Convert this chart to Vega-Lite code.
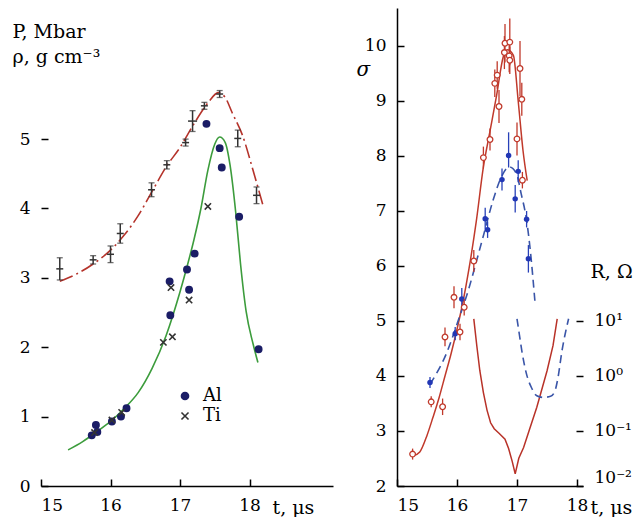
{
  "$schema": "https://vega.github.io/schema/vega-lite/v6.json",
  "padding": {"left": 12, "top": 8, "right": 0, "bottom": 0},
  "background": "white",
  "config": {
    "font": "DejaVu Serif",
    "view": {"stroke": null},
    "axis": {
      "grid": false, "domainColor": "#000", "tickColor": "#000", "labelColor": "#000", "titleColor": "#000",
      "labelFontSize": 17, "titleFontSize": 19, "titleFontWeight": "normal",
      "labelFont": "DejaVu Serif", "titleFont": "DejaVu Serif",
      "tickSize": -7, "domainWidth": 1.5, "tickWidth": 1.5, "labelPadding": 18, "format": "d"
    },
    "legend": {"labelFont": "DejaVu Serif", "labelFontSize": 18, "labelColor": "#000"},
    "text": {"font": "DejaVu Serif"},
    "concat": {"spacing": 23}
  },
  "hconcat": [
    {
      "width": 292,
      "height": 478,
      "layer": [
        {
          "data": {"values": [
            {"t": 15.27, "v": 2.95}, {"t": 15.5, "v": 3.05}, {"t": 15.75, "v": 3.2}, {"t": 16.0, "v": 3.4},
            {"t": 16.2, "v": 3.62}, {"t": 16.4, "v": 3.9}, {"t": 16.6, "v": 4.25}, {"t": 16.8, "v": 4.6},
            {"t": 17.0, "v": 4.88}, {"t": 17.2, "v": 5.22}, {"t": 17.4, "v": 5.52}, {"t": 17.55, "v": 5.67},
            {"t": 17.65, "v": 5.6}, {"t": 17.75, "v": 5.38}, {"t": 17.9, "v": 5.05}, {"t": 18.05, "v": 4.55},
            {"t": 18.2, "v": 4.02}
          ]},
          "mark": {"type": "line", "color": "#b5332b", "strokeWidth": 1.6, "strokeDash": [14, 4, 2, 4], "interpolate": "monotone"},
          "encoding": {
            "x": {"field": "t", "type": "quantitative", "scale": {"domain": [15, 19.2], "nice": false, "zero": false},
                  "axis": {"values": [15, 16, 17, 18], "title": "t, μs", "titleAlign": "left", "titleBaseline": "alphabetic", "titleX": 231, "titleY": 27}},
            "y": {"field": "v", "type": "quantitative", "scale": {"domain": [0, 6.89], "nice": false, "zero": false},
                  "axis": {"values": [0, 1, 2, 3, 4, 5], "domain": false, "title": ["P, Mbar", "ρ, g cm⁻³"], "titleAngle": 0, "titleAlign": "left", "titleBaseline": "alphabetic", "titleX": -29, "titleY": 29, "titleLineHeight": 25}}
          }
        },
        {
          "mark": {"type": "rule", "color": "#000", "strokeWidth": 1.5},
          "encoding": {"x": {"datum": 15}, "y": {"datum": 0}, "y2": {"datum": 6}}
        },
        {
          "data": {"values": [
            {"t": 15.39, "v": 0.52}, {"t": 15.6, "v": 0.64}, {"t": 15.8, "v": 0.78}, {"t": 16.0, "v": 0.93},
            {"t": 16.2, "v": 1.12}, {"t": 16.4, "v": 1.35}, {"t": 16.6, "v": 1.7}, {"t": 16.8, "v": 2.17},
            {"t": 17.0, "v": 2.8}, {"t": 17.1, "v": 3.16}, {"t": 17.2, "v": 3.55}, {"t": 17.3, "v": 4.0},
            {"t": 17.4, "v": 4.55}, {"t": 17.5, "v": 4.93}, {"t": 17.57, "v": 5.03}, {"t": 17.65, "v": 4.95},
            {"t": 17.72, "v": 4.62}, {"t": 17.8, "v": 3.95}, {"t": 17.87, "v": 3.2}, {"t": 17.95, "v": 2.52},
            {"t": 18.05, "v": 2.05}, {"t": 18.12, "v": 1.78}
          ]},
          "mark": {"type": "line", "color": "#3c9c3c", "strokeWidth": 1.6, "interpolate": "monotone"},
          "encoding": {"x": {"field": "t", "type": "quantitative"}, "y": {"field": "v", "type": "quantitative"}}
        },
        {
          "data": {"values": [
            {"t": 15.27, "v": 3.13, "lo": 2.97, "hi": 3.29, "tlo": 15.22, "thi": 15.32},
            {"t": 15.75, "v": 3.26, "lo": 3.2, "hi": 3.32, "tlo": 15.7, "thi": 15.8},
            {"t": 16.0, "v": 3.34, "lo": 3.22, "hi": 3.46, "tlo": 15.95, "thi": 16.05},
            {"t": 16.14, "v": 3.64, "lo": 3.5, "hi": 3.78, "tlo": 16.09, "thi": 16.19},
            {"t": 16.59, "v": 4.27, "lo": 4.17, "hi": 4.37, "tlo": 16.54, "thi": 16.64},
            {"t": 16.81, "v": 4.63, "lo": 4.57, "hi": 4.69, "tlo": 16.76, "thi": 16.86},
            {"t": 17.08, "v": 4.95, "lo": 4.9, "hi": 5.0, "tlo": 17.03, "thi": 17.13},
            {"t": 17.18, "v": 5.26, "lo": 5.11, "hi": 5.41, "tlo": 17.115, "thi": 17.245},
            {"t": 17.35, "v": 5.48, "lo": 5.43, "hi": 5.53, "tlo": 17.3, "thi": 17.4},
            {"t": 17.57, "v": 5.65, "lo": 5.6, "hi": 5.7, "tlo": 17.52, "thi": 17.62},
            {"t": 17.83, "v": 5.01, "lo": 4.89, "hi": 5.13, "tlo": 17.78, "thi": 17.88},
            {"t": 18.1, "v": 4.19, "lo": 4.07, "hi": 4.31, "tlo": 18.05, "thi": 18.15}
          ]},
          "layer": [
            {
              "mark": {"type": "rule", "color": "#333", "strokeWidth": 1.5},
              "encoding": {"x": {"field": "t", "type": "quantitative"}, "y": {"field": "lo", "type": "quantitative"}, "y2": {"field": "hi"}}
            },
            {
              "mark": {"type": "rule", "color": "#333", "strokeWidth": 1.5},
              "encoding": {"x": {"field": "tlo", "type": "quantitative"}, "x2": {"field": "thi"}, "y": {"field": "v", "type": "quantitative"}}
            },
            {
              "mark": {"type": "tick", "orient": "horizontal", "color": "#333", "size": 6, "thickness": 1.3},
              "encoding": {"x": {"field": "t", "type": "quantitative"}, "y": {"field": "lo", "type": "quantitative"}}
            },
            {
              "mark": {"type": "tick", "orient": "horizontal", "color": "#333", "size": 6, "thickness": 1.3},
              "encoding": {"x": {"field": "t", "type": "quantitative"}, "y": {"field": "hi", "type": "quantitative"}}
            }
          ]
        },
        {
          "data": {"values": [
            {"t": 15.73, "v": 0.73, "metal": "Al"}, {"t": 15.79, "v": 0.88, "metal": "Al"}, {"t": 15.81, "v": 0.78, "metal": "Al"},
            {"t": 16.02, "v": 0.93, "metal": "Al"}, {"t": 16.15, "v": 1.0, "metal": "Al"}, {"t": 16.23, "v": 1.12, "metal": "Al"},
            {"t": 16.86, "v": 2.46, "metal": "Al"}, {"t": 16.85, "v": 2.95, "metal": "Al"}, {"t": 17.1, "v": 3.12, "metal": "Al"},
            {"t": 17.13, "v": 2.83, "metal": "Al"}, {"t": 17.21, "v": 3.35, "metal": "Al"}, {"t": 17.38, "v": 5.22, "metal": "Al"},
            {"t": 17.57, "v": 4.87, "metal": "Al"}, {"t": 17.6, "v": 4.59, "metal": "Al"}, {"t": 17.85, "v": 3.88, "metal": "Al"},
            {"t": 18.13, "v": 1.97, "metal": "Al"},
            {"t": 15.77, "v": 0.77, "metal": "Ti"}, {"t": 16.02, "v": 0.95, "metal": "Ti"}, {"t": 16.16, "v": 1.06, "metal": "Ti"},
            {"t": 16.76, "v": 2.07, "metal": "Ti"}, {"t": 16.89, "v": 2.15, "metal": "Ti"}, {"t": 16.87, "v": 2.86, "metal": "Ti"},
            {"t": 17.13, "v": 2.68, "metal": "Ti"}, {"t": 17.4, "v": 4.03, "metal": "Ti"}
          ]},
          "mark": {"type": "point", "filled": true, "size": 40, "strokeWidth": 1.6, "opacity": 1},
          "encoding": {
            "x": {"field": "t", "type": "quantitative"},
            "y": {"field": "v", "type": "quantitative"},
            "shape": {"field": "metal", "type": "nominal", "scale": {"domain": ["Al", "Ti"], "range": ["circle", "M-1,-1L1,1M-1,1L1,-1"]},
                      "legend": {"title": null, "orient": "none", "legendX": 135, "legendY": 379, "padding": 0, "rowPadding": 2, "labelOffset": 9, "symbolStrokeWidth": 1.6, "symbolSize": 50}},
            "fill": {"field": "metal", "type": "nominal", "scale": {"domain": ["Al", "Ti"], "range": ["#1b1d66", "transparent"]}},
            "stroke": {"field": "metal", "type": "nominal", "scale": {"domain": ["Al", "Ti"], "range": ["#1b1d66", "#333333"]}}
          }
        },
        {
          "mark": {"type": "text", "fontSize": 19, "fontStyle": "italic", "align": "left", "baseline": "alphabetic"},
          "encoding": {"x": {"datum": 17.83}, "y": {"datum": 5.4}, "text": {"value": "ρ"}}
        },
        {
          "mark": {"type": "text", "fontSize": 13, "align": "left", "baseline": "alphabetic"},
          "encoding": {"x": {"datum": 18.0}, "y": {"datum": 5.35}, "text": {"value": "C"}}
        },
        {
          "mark": {"type": "text", "fontSize": 20, "fontStyle": "italic", "align": "left", "baseline": "alphabetic"},
          "encoding": {"x": {"datum": 17.94}, "y": {"datum": 3.18}, "text": {"value": "P"}}
        },
        {
          "mark": {"type": "text", "fontSize": 18, "align": "center", "baseline": "alphabetic"},
          "encoding": {"x": {"datum": 18.48}, "y": {"datum": 6.53}, "text": {"value": "a"}}
        }
      ]
    },
    {
      "width": 186,
      "height": 478,
      "layer": [
        {
          "layer": [
            {
              "data": {"values": [
                {"t": 15.27, "v": 2.55}, {"t": 15.38, "v": 2.62}, {"t": 15.5, "v": 2.92}, {"t": 15.6, "v": 3.25},
                {"t": 15.7, "v": 3.6}, {"t": 15.8, "v": 4.0}, {"t": 15.9, "v": 4.4}, {"t": 16.0, "v": 4.85},
                {"t": 16.1, "v": 5.35}, {"t": 16.2, "v": 5.95}, {"t": 16.32, "v": 6.8}, {"t": 16.44, "v": 7.8},
                {"t": 16.55, "v": 8.45}, {"t": 16.66, "v": 9.1}, {"t": 16.77, "v": 9.8}, {"t": 16.84, "v": 9.93},
                {"t": 16.94, "v": 9.83}, {"t": 17.02, "v": 9.0}, {"t": 17.1, "v": 8.1}, {"t": 17.17, "v": 7.55}
              ]},
              "mark": {"type": "line", "color": "#c0392b", "strokeWidth": 1.5, "interpolate": "monotone"},
              "encoding": {
                "x": {"field": "t", "type": "quantitative", "scale": {"domain": [15, 18.1], "nice": false, "zero": false},
                      "axis": {"values": [15, 16, 17, 18], "title": "t, μs", "titleAlign": "left", "titleBaseline": "alphabetic", "titleX": 193, "titleY": 27}},
                "y": {"field": "v", "type": "quantitative", "scale": {"domain": [2, 10.69], "nice": false, "zero": false},
                      "axis": {"orient": "left", "values": [2, 3, 4, 5, 6, 7, 8, 9, 10], "title": "σ", "titleFontStyle": "italic", "titleFontSize": 20, "titleAngle": 0, "titleAlign": "left", "titleBaseline": "alphabetic", "titleX": -41, "titleY": 67}}
              }
            },
            {
              "mark": {"type": "rule", "color": "#000", "strokeWidth": 1.5},
              "encoding": {"x": {"datum": 18.1}, "y": {"datum": 2}, "y2": {"datum": 6.1}}
            },
            {
              "data": {"values": [
                {"t": 15.55, "v": 3.85}, {"t": 15.82, "v": 4.4}, {"t": 16.04, "v": 5.07}, {"t": 16.2, "v": 5.6},
                {"t": 16.34, "v": 6.15}, {"t": 16.44, "v": 6.55}, {"t": 16.6, "v": 7.19}, {"t": 16.74, "v": 7.62},
                {"t": 16.87, "v": 7.8}, {"t": 16.99, "v": 7.68}, {"t": 17.07, "v": 7.31}, {"t": 17.16, "v": 6.83},
                {"t": 17.22, "v": 6.3}, {"t": 17.3, "v": 5.34}
              ]},
              "mark": {"type": "line", "color": "#3a55a8", "strokeWidth": 1.6, "strokeDash": [8, 5], "interpolate": "monotone"},
              "encoding": {"x": {"field": "t", "type": "quantitative"}, "y": {"field": "v", "type": "quantitative"}}
            },
            {
              "data": {"values": [
                {"t": 15.55, "v": 3.88, "lo": 3.78, "hi": 3.98}, {"t": 15.97, "v": 4.77, "lo": 4.65, "hi": 4.89},
                {"t": 16.08, "v": 5.4, "lo": 5.2, "hi": 5.6}, {"t": 16.47, "v": 6.86, "lo": 6.66, "hi": 7.06},
                {"t": 16.51, "v": 6.66, "lo": 6.51, "hi": 6.81}, {"t": 16.75, "v": 7.57, "lo": 7.37, "hi": 7.77},
                {"t": 16.86, "v": 8.01, "lo": 7.79, "hi": 8.43}, {"t": 16.97, "v": 7.22, "lo": 6.97, "hi": 7.47},
                {"t": 17.02, "v": 7.72, "lo": 7.52, "hi": 7.92}, {"t": 17.16, "v": 6.85, "lo": 6.7, "hi": 7.0},
                {"t": 17.19, "v": 6.13, "lo": 5.88, "hi": 6.38}
              ]},
              "layer": [
                {
                  "mark": {"type": "rule", "color": "#2841b8", "strokeWidth": 1.3},
                  "encoding": {"x": {"field": "t", "type": "quantitative"}, "y": {"field": "lo", "type": "quantitative"}, "y2": {"field": "hi"}}
                },
                {
                  "mark": {"type": "point", "filled": true, "color": "#2237b5", "size": 30, "opacity": 1},
                  "encoding": {"x": {"field": "t", "type": "quantitative"}, "y": {"field": "v", "type": "quantitative"}}
                }
              ]
            },
            {
              "data": {"values": [
                {"t": 15.26, "v": 2.58, "lo": 2.48, "hi": 2.68}, {"t": 15.57, "v": 3.53, "lo": 3.43, "hi": 3.63},
                {"t": 15.76, "v": 3.44, "lo": 3.29, "hi": 3.59}, {"t": 15.8, "v": 4.71, "lo": 4.54, "hi": 4.88},
                {"t": 15.95, "v": 5.43, "lo": 5.23, "hi": 5.63}, {"t": 16.05, "v": 4.8, "lo": 4.65, "hi": 4.95},
                {"t": 16.12, "v": 5.25, "lo": 5.1, "hi": 5.4}, {"t": 16.28, "v": 6.09, "lo": 5.89, "hi": 6.29},
                {"t": 16.44, "v": 7.97, "lo": 7.77, "hi": 8.17}, {"t": 16.55, "v": 8.3, "lo": 8.1, "hi": 8.5},
                {"t": 16.63, "v": 9.32, "lo": 9.07, "hi": 9.57}, {"t": 16.67, "v": 9.47, "lo": 9.22, "hi": 9.72},
                {"t": 16.7, "v": 8.9, "lo": 8.6, "hi": 9.2}, {"t": 16.79, "v": 9.88, "lo": 9.58, "hi": 10.18},
                {"t": 16.8, "v": 10.05, "lo": 9.7, "hi": 10.4}, {"t": 16.87, "v": 9.82, "lo": 9.52, "hi": 10.12},
                {"t": 16.88, "v": 10.07, "lo": 9.65, "hi": 10.5}, {"t": 16.88, "v": 9.74, "lo": 9.49, "hi": 9.99},
                {"t": 17.0, "v": 8.31, "lo": 8.01, "hi": 8.61}, {"t": 17.05, "v": 9.59, "lo": 9.09, "hi": 10.09},
                {"t": 17.08, "v": 9.03, "lo": 8.73, "hi": 9.33}, {"t": 17.09, "v": 7.56, "lo": 7.41, "hi": 7.71}
              ]},
              "layer": [
                {
                  "mark": {"type": "rule", "color": "#c0392b", "strokeWidth": 1.3},
                  "encoding": {"x": {"field": "t", "type": "quantitative"}, "y": {"field": "lo", "type": "quantitative"}, "y2": {"field": "hi"}}
                },
                {
                  "mark": {"type": "point", "filled": false, "color": "#c0392b", "fill": "white", "size": 32, "strokeWidth": 1.3, "opacity": 1},
                  "encoding": {"x": {"field": "t", "type": "quantitative"}, "y": {"field": "v", "type": "quantitative"}}
                }
              ]
            },
            {
              "mark": {"type": "text", "fontSize": 19, "align": "left", "baseline": "alphabetic"},
              "encoding": {"x": {"datum": 17.27}, "y": {"datum": 8.96}, "text": {"value": "H₂"}}
            },
            {
              "mark": {"type": "text", "fontSize": 19, "align": "left", "baseline": "alphabetic"},
              "encoding": {"x": {"datum": 17.27}, "y": {"datum": 6.86}, "text": {"value": "D₂"}}
            },
            {
              "mark": {"type": "text", "fontSize": 18, "align": "center", "baseline": "alphabetic"},
              "encoding": {"x": {"datum": 18.63}, "y": {"datum": 10.23}, "text": {"value": "b"}}
            }
          ]
        },
        {
          "layer": [
            {
              "data": {"values": [
                {"t": 16.28, "R": 10.96}, {"t": 16.33, "R": 3.55}, {"t": 16.38, "R": 1.26}, {"t": 16.44, "R": 0.5},
                {"t": 16.5, "R": 0.24}, {"t": 16.56, "R": 0.141}, {"t": 16.62, "R": 0.11}, {"t": 16.7, "R": 0.091},
                {"t": 16.8, "R": 0.071}, {"t": 16.86, "R": 0.048}, {"t": 16.92, "R": 0.028}, {"t": 16.97, "R": 0.0166},
                {"t": 17.03, "R": 0.032}, {"t": 17.11, "R": 0.05}, {"t": 17.2, "R": 0.1}, {"t": 17.33, "R": 0.27},
                {"t": 17.5, "R": 1.23}, {"t": 17.6, "R": 3.55}, {"t": 17.67, "R": 10.96}
              ]},
              "mark": {"type": "line", "color": "#b83228", "strokeWidth": 1.5},
              "encoding": {
                "x": {"field": "t", "type": "quantitative"},
                "y": {"field": "R", "type": "quantitative", "scale": {"type": "log", "domain": [0.01, 4897788], "nice": false},
                      "axis": {"orient": "right", "domain": false, "values": [0.01, 0.1, 1, 10], "labelAlign": "left", "labelFlush": true,
                               "labelExpr": "datum.value < 0.05 ? '10⁻²' : datum.value < 0.5 ? '10⁻¹' : datum.value < 5 ? '10⁰' : '10¹'",
                               "title": "R, Ω", "titleAngle": 0, "titleAlign": "left", "titleBaseline": "alphabetic", "titleX": 7, "titleY": 269}}
              }
            },
            {
              "data": {"values": [
                {"t": 17.0, "R": 10.96}, {"t": 17.04, "R": 5.62}, {"t": 17.08, "R": 2.88}, {"t": 17.16, "R": 1.07},
                {"t": 17.24, "R": 0.617}, {"t": 17.33, "R": 0.437}, {"t": 17.44, "R": 0.407}, {"t": 17.56, "R": 0.427},
                {"t": 17.63, "R": 0.525}, {"t": 17.68, "R": 0.89}, {"t": 17.75, "R": 2.88}, {"t": 17.8, "R": 5.62},
                {"t": 17.86, "R": 10.96}
              ]},
              "mark": {"type": "line", "color": "#3a55a8", "strokeWidth": 1.6, "strokeDash": [8, 5], "interpolate": "monotone"},
              "encoding": {"x": {"field": "t", "type": "quantitative"}, "y": {"field": "R", "type": "quantitative"}}
            }
          ]
        }
      ],
      "resolve": {"scale": {"y": "independent"}, "axis": {"y": "independent"}}
    }
  ]
}
